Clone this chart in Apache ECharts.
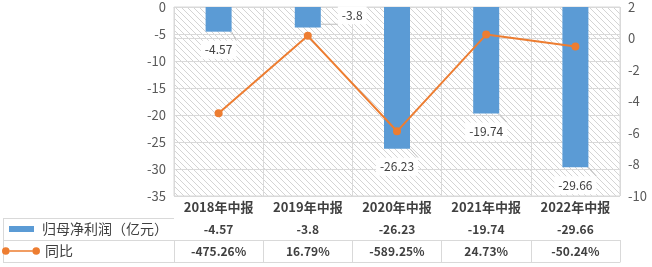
<!DOCTYPE html>
<html><head><meta charset="utf-8">
<script src="https://cdn.jsdelivr.net/npm/echarts@6/dist/echarts.min.js"></script>
<style>html,body{margin:0;padding:0;background:#fff}#c{width:652px;height:267px}</style>
</head><body><div id="c"></div>
<script>
var categories = ['2018年中报','2019年中报','2020年中报','2021年中报','2022年中报'];
var profit = [-4.57, -3.8, -26.23, -19.74, -29.66];
var yoyPct = [-475.26, 16.79, -589.25, 24.73, -50.24];
var yoyLabels = ['-475.26%','16.79%','-589.25%','24.73%','-50.24%'];
var leftTicks = {min: -35, max: 0, interval: 5};
var rightTicks = {min: -10, max: 2, interval: 2};

var FONT = '"Noto Sans CJK SC", sans-serif';
var GRID = '#d9d9d9';
var BLUE = '#5b9bd5';
var ORANGE = '#ed7d31';

var pc = document.createElement('canvas');
pc.width = 6; pc.height = 6;
var px = pc.getContext('2d');
px.strokeStyle = '#d4d4d4'; px.lineWidth = 1;
px.beginPath(); px.moveTo(0,0); px.lineTo(6,6); px.moveTo(-1,5); px.lineTo(1,7); px.moveTo(5,-1); px.lineTo(7,1); px.stroke();

var chart = echarts.init(document.getElementById('c'), null, {renderer:'canvas'});
var G = {left:174, right:32, top:7, bottom:71};

function tableAxis(offset, labels, showLabel, size){
  return {
    type:'category', data:categories, position:'bottom', offset:offset, gridIndex:0,
    axisLine:{show:true, lineStyle:{color:GRID, width:1}},
    axisTick:{show:showLabel, length:22, interval:0, lineStyle:{color:GRID}},
    axisLabel:{show:showLabel, interval:0, margin:5, color:'#404040', fontWeight:'bold', fontSize:size, fontFamily:FONT,
      formatter:function(v, i){ return labels ? labels[i] : v; }},
    splitLine:{show:false}
  };
}

var xAxes = [
  {type:'category', data:categories, position:'bottom', offset:0, gridIndex:0,
   axisLine:{show:true, lineStyle:{color:GRID}},
   axisTick:{show:true, length:22, interval:0, lineStyle:{color:GRID}},
   axisLabel:{interval:0, margin:5, color:'#404040', fontWeight:'bold', fontSize:13, fontFamily:FONT},
   splitLine:{show:true, interval:0, lineStyle:{color:GRID}}},
  tableAxis(22, profit.map(String), true, 12),
  tableAxis(44, yoyLabels, true, 12),
  tableAxis(66, null, false, 12)
];

var option = {
  animation:false,
  backgroundColor:'#fff',
  grid:{left:G.left, right:G.right, top:G.top, bottom:G.bottom, show:true,
    backgroundColor:{image:pc, repeat:'repeat'}, borderColor:GRID, borderWidth:1},
  legend:[
    {data:[{name:'归母净利润（亿元）', icon:'rect'}], left:9, top:222, itemWidth:25, itemHeight:6, itemGap:0,
     textStyle:{color:'#404040', fontSize:14, fontFamily:FONT, padding:[0,0,0,3]}, padding:0},
    {data:[{name:'同比', icon:'path://M0,4A4,4,0,1,1,8,4A4,4,0,1,1,0,4Z M8,3.2L32,3.2L32,4.8L8,4.8Z M32,4A4,4,0,1,1,40,4A4,4,0,1,1,32,4Z'}],
     left:2, top:244, itemWidth:38, itemHeight:8, itemGap:0,
     textStyle:{color:'#404040', fontSize:14, fontFamily:FONT}, padding:0}
  ],
  xAxis:xAxes,
  yAxis:[
    {type:'value', min:leftTicks.min, max:leftTicks.max, interval:leftTicks.interval, position:'left',
     axisLine:{show:false}, axisTick:{show:false},
     axisLabel:{color:'#595959', fontSize:13, fontFamily:FONT, margin:8},
     splitLine:{show:true, lineStyle:{color:GRID}}},
    {type:'value', min:rightTicks.min, max:rightTicks.max, interval:rightTicks.interval, position:'right',
     axisLine:{show:false}, axisTick:{show:false},
     axisLabel:{color:'#595959', fontSize:13, fontFamily:FONT, margin:8},
     splitLine:{show:false}}
  ],
  series:[
    {name:'归母净利润（亿元）', type:'bar', xAxisIndex:0, yAxisIndex:0, barWidth:26,
     itemStyle:{color:BLUE},
     data:profit.map(function(v, i){
       var d = {value:v};
       if (i === 1) d.label = {position:'right', offset:[8,-2]};
       return d;
     }),
     labelLine:{show:true, lineStyle:{color:'#bfbfbf', width:1}},
     label:{show:true, position:'bottom', distance:9, color:'#404040', fontSize:12, fontFamily:FONT,
       backgroundColor:'#fff', padding:[3,4]}},
    {name:'同比', type:'line', xAxisIndex:0, yAxisIndex:1,
     data:yoyPct.map(function(v){ return v/100; }),
     symbol:'circle', symbolSize:8,
     lineStyle:{color:ORANGE, width:2}, itemStyle:{color:ORANGE}}
  ],
  graphic:[
    {type:'line', shape:{x1:3, y1:218.5, x2:174, y2:218.5}, style:{stroke:GRID, lineWidth:1}},
    {type:'line', shape:{x1:3, y1:240.5, x2:174, y2:240.5}, style:{stroke:GRID, lineWidth:1}},
    {type:'line', shape:{x1:3, y1:262.5, x2:174, y2:262.5}, style:{stroke:GRID, lineWidth:1}},
    {type:'line', shape:{x1:3.5, y1:218, x2:3.5, y2:263}, style:{stroke:GRID, lineWidth:1}}
  ]
};
chart.setOption(option);
</script></body></html>
